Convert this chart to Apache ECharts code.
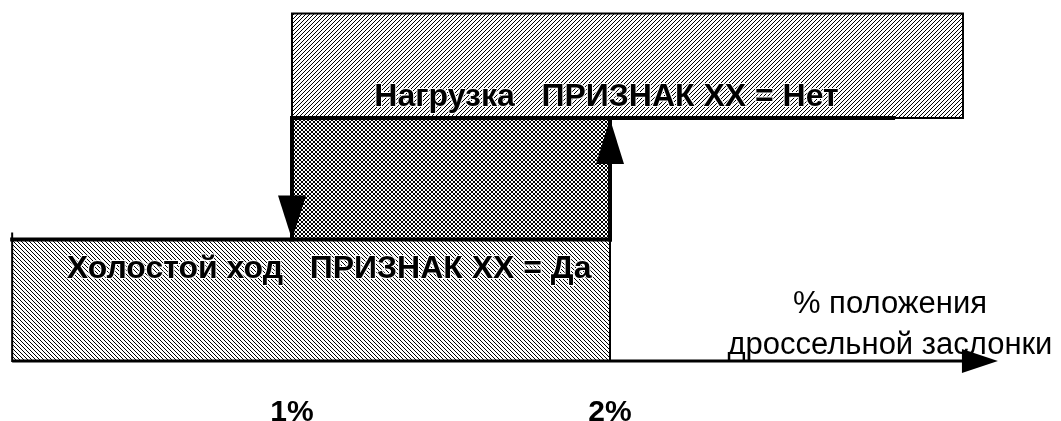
<!DOCTYPE html>
<html>
<head>
<meta charset="utf-8">
<script src="https://cdn.jsdelivr.net/npm/echarts@6/dist/echarts.min.js"></script>
<style>
html,body{margin:0;padding:0;background:#fff;}
#chart{width:1061px;height:421px;}
</style>
</head>
<body>
<div id="chart"></div>
<script>
// пороги переключения признака ХХ, % положения дроссельной заслонки
const thresholds = [1, 2];
const tickLabels = ['1%', '2%'];
// зоны по оси X
const idleZone = [0.12, 2];
const loadZone = [1, 3.11];
const loadLineEnd = 2.89;
const axisEnd = 3.22;
// уровни по Y: ось, ХХ, нагрузка, верх зоны нагрузки
const levels = [0, 1, 2, 2.86];
const zoneNames = ['Холостой ход   ПРИЗНАК ХХ = Да', 'Нагрузка   ПРИЗНАК ХХ = Нет'];
const axisTitle = ['% положения', 'дроссельной заслонки'];

const FONT = "'Liberation Sans', Arial, sans-serif";

// штриховка: 'fwd' = /, 'back' = \, 'cross' = сетка
function hatch(type) {
    const c = document.createElement('canvas');
    c.width = 4; c.height = 4;
    const ctx = c.getContext('2d');
    ctx.fillStyle = '#fff';
    ctx.fillRect(0, 0, 4, 4);
    ctx.fillStyle = '#000';
    for (let i = 0; i < 4; i++) {
        if (type !== 'back') ctx.fillRect(i, 3 - i, 1, 1);
        if (type !== 'fwd') ctx.fillRect(i, i, 1, 1);
    }
    return {image: c, repeat: 'repeat'};
}

function box(a, b) {
    return {x: a[0], y: a[1], width: b[0] - a[0], height: b[1] - a[1]};
}

function renderItem(params, api) {
    const p = (x, y) => api.coord([x, y]);
    const [x1, x2] = thresholds;
    const [y0, y1, y2, y3] = levels;
    const thick = {stroke: '#000', lineWidth: 4, lineCap: 'square'};

    const idleTop = p(idleZone[0], y1);
    const idleBot = p(idleZone[1], y0);
    const loadTop = p(loadZone[0], y3);
    const loadBot = p(loadZone[1], y2);
    const down = p(x1, y1);
    const up = p(x2, y2);
    const lineEnd = p(loadLineEnd, y2);
    const axS = p(idleZone[0], y0);
    const axE = p(axisEnd, y0);
    const bold = 'bold 32px ' + FONT;

    return {
        type: 'group',
        children: [
            {type: 'rect', shape: box(idleTop, idleBot), style: {fill: hatch('back'), stroke: '#000', lineWidth: 2}},
            {type: 'rect', shape: box(loadTop, loadBot), style: {fill: hatch('fwd'), stroke: '#000', lineWidth: 2}},
            {type: 'rect', shape: box(p(x1, y2), p(x2, y1)), style: {fill: hatch('cross')}},
            // линии гистерезиса
            {type: 'line', shape: {x1: down[0], y1: up[1], x2: lineEnd[0], y2: up[1]}, style: thick},
            {type: 'line', shape: {x1: down[0], y1: up[1], x2: down[0], y2: down[1]}, style: thick},
            {type: 'line', shape: {x1: idleTop[0], y1: idleTop[1], x2: up[0], y2: idleTop[1]}, style: thick},
            {type: 'line', shape: {x1: up[0], y1: down[1], x2: up[0], y2: up[1]}, style: thick},
            {type: 'line', shape: {x1: idleTop[0], y1: idleTop[1], x2: idleTop[0], y2: idleTop[1] - 7}, style: {stroke: '#000', lineWidth: 2}},
            // стрелки
            {type: 'polygon', shape: {points: [[down[0] - 14, down[1] - 44], [down[0] + 14, down[1] - 44], [down[0], down[1]]]}, style: {fill: '#000'}},
            {type: 'polygon', shape: {points: [[up[0] - 14, up[1] + 46], [up[0] + 14, up[1] + 46], [up[0], up[1] + 1]]}, style: {fill: '#000'}},
            // ось
            {type: 'line', shape: {x1: axS[0], y1: axS[1], x2: axE[0] - 30, y2: axE[1]}, style: {stroke: '#000', lineWidth: 3}},
            {type: 'polygon', shape: {points: [[axE[0] - 36, axE[1] - 12], [axE[0] - 36, axE[1] + 12], [axE[0], axE[1]]]}, style: {fill: '#000'}},
            // подписи зон
            {type: 'text', x: (idleTop[0] + idleBot[0]) / 2 + 18, y: idleTop[1] + 30, style: {
                text: zoneNames[0], font: bold, fill: '#000', stroke: '#fff', lineWidth: 2,
                align: 'center', verticalAlign: 'middle'}},
            {type: 'text', x: (down[0] + lineEnd[0]) / 2 + 14, y: up[1] - 21, style: {
                text: zoneNames[1], font: bold, fill: '#000', stroke: '#fff', lineWidth: 2,
                align: 'center', verticalAlign: 'middle'}},
            {type: 'text', x: axE[0] - 108, y: axE[1] + 5, style: {
                text: axisTitle.join('\n'), font: '31px ' + FONT, fill: '#000',
                align: 'center', verticalAlign: 'bottom', lineHeight: 41}}
        ]
    };
}

const chart = echarts.init(document.getElementById('chart'));
chart.setOption({
    animation: false,
    grid: {left: 5.8, right: 37.6, top: 8.65, bottom: 60, outerBoundsMode: 'none'},
    xAxis: {
        type: 'value', min: 0.1, max: 3.3,
        axisLine: {show: false}, axisTick: {show: false}, splitLine: {show: false},
        axisLabel: {
            customValues: thresholds,
            formatter: v => tickLabels[thresholds.indexOf(v)],
            fontFamily: FONT, fontWeight: 'bold', fontSize: 30, color: '#000', margin: 37
        }
    },
    yAxis: {type: 'value', min: 0, max: 2.9, show: false},
    series: [{
        type: 'custom',
        renderItem: renderItem,
        clip: false,
        silent: true,
        data: [[0, 0]]
    }]
});
</script>
</body>
</html>
